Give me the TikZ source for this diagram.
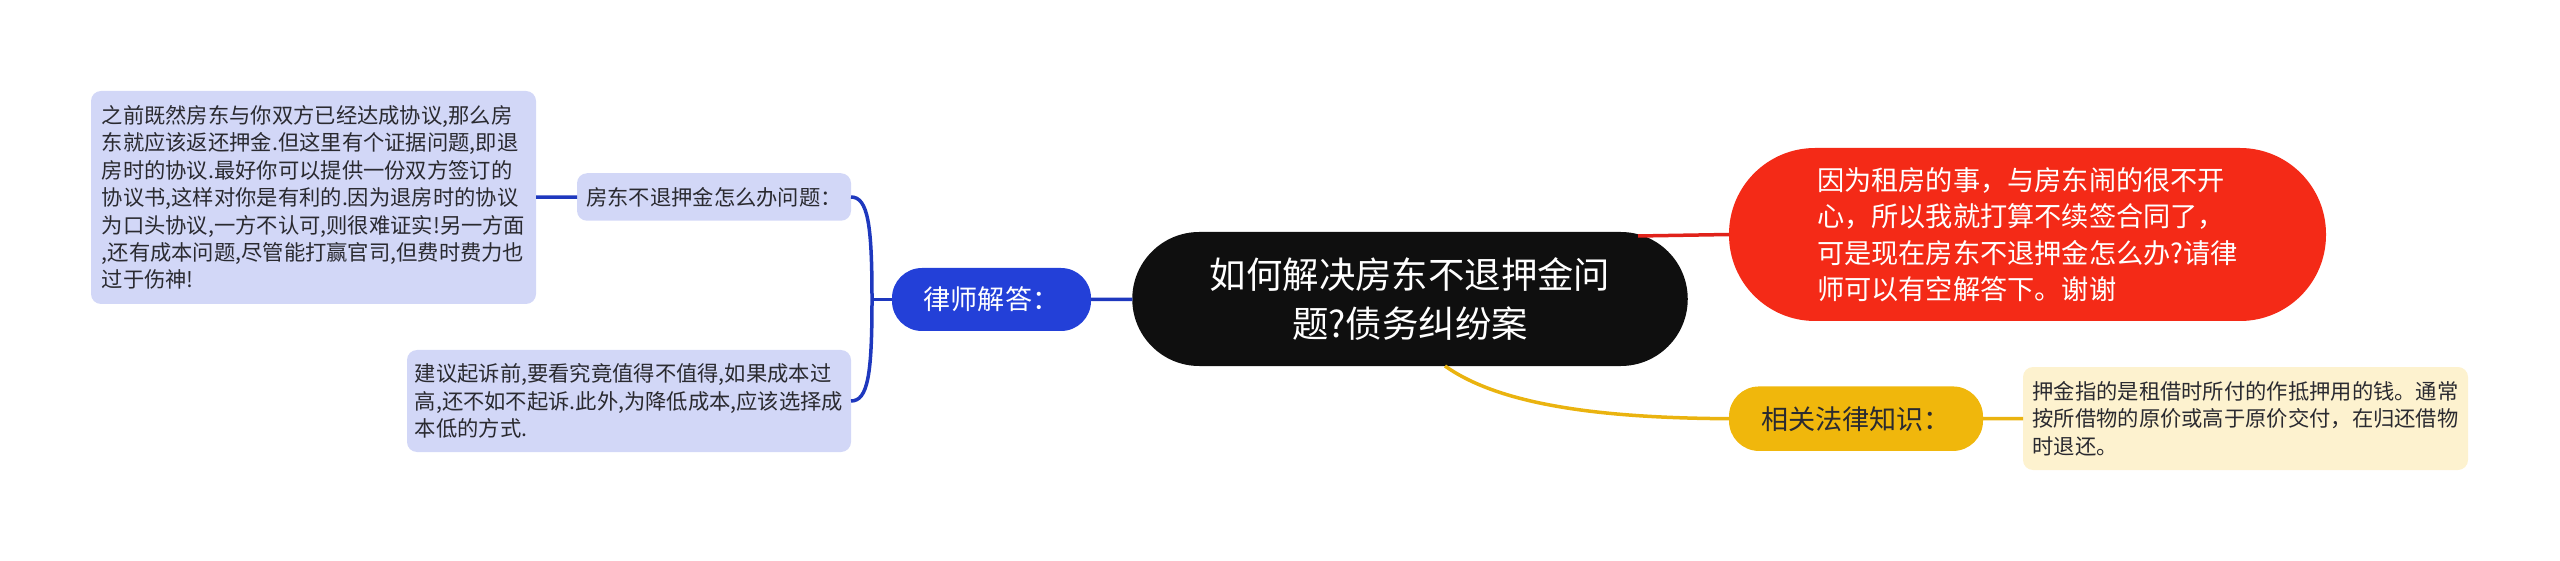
\documentclass[tikz,border=0pt]{standalone}
\usepackage{fontspec}
\setmainfont{Noto Sans CJK SC}
\definecolor{rootblack}{HTML}{0F0F0F}
\definecolor{askred}{HTML}{F42A17}
\definecolor{lineRed}{HTML}{E0221A}
\definecolor{lawblue}{HTML}{2340D8}
\definecolor{lineBlue}{HTML}{1E38BE}
\definecolor{paleBlue}{HTML}{D2D7F7}
\definecolor{lawgold}{HTML}{F0B70C}
\definecolor{lineGold}{HTML}{EAB30F}
\definecolor{paleGold}{HTML}{FDF2CF}
\definecolor{smalltext}{HTML}{2A2A30}
\tikzset{
 	mapnode/.style={inner sep=0pt,outer sep=0pt,align=left},
 	leaf/.style={mapnode,rounded corners=10pt,text=smalltext,font=\fontsize{21.3}{27.4}\selectfont},
 	topic/.style={mapnode,rounded corners=30pt,font=\fontsize{27.1}{32}\selectfont},
 	link/.style={line width=3.5pt}
}
\begin{document}
\begin{tikzpicture}[x=1pt,y=-1pt]
 	\useasboundingbox (0,0) rectangle (2560,561);
 	\node[mapnode,fill=rootblack,text=white,rounded corners=67pt,align=center,minimum width=555.5pt,minimum height=134pt,font=\fontsize{36.4}{49}\selectfont] (root) at (1410,299)
 	{如何解决房东不退押金问\\题?债务纠纷案};
 	\node[mapnode,fill=askred,text=white,rounded corners=86pt,minimum width=597pt,minimum height=173pt,font=\fontsize{27.2}{36.5}\selectfont] (ask) at (2027.5,234.5)
 	{因为租房的事，与房东闹的很不开\\心，所以我就打算不续签合同了，\\可是现在房东不退押金怎么办?请律\\师可以有空解答下。谢谢};
 	\node[topic,fill=lawblue,text=white,minimum width=199pt,minimum height=63pt] (lawyer) at (991.5,299.5) {律师解答：};
 	\node[topic,fill=lawgold,text=smalltext,minimum width=254pt,minimum height=64.5pt] (legal) at (1856,418.7) {相关法律知识：};
 	\node[leaf,fill=paleBlue,minimum width=274pt,minimum height=47.5pt] (question) at (714,197) {房东不退押金怎么办问题：};
 	\node[leaf,fill=paleBlue,minimum width=445pt,minimum height=213pt] (answerA) at (313.5,197.5)
 	{之前既然房东与你双方已经达成协议,那么房\\东就应该返还押金.但这里有个证据问题,即退\\房时的协议.最好你可以提供一份双方签订的\\协议书,这样对你是有利的.因为退房时的协议\\为口头协议,一方不认可,则很难证实!另一方面\\,还有成本问题,尽管能打赢官司,但费时费力也\\过于伤神!};
 	\node[leaf,fill=paleBlue,minimum width=444pt,minimum height=102pt] (answerB) at (629,401)
 	{建议起诉前,要看究竟值得不值得,如果成本过\\高,还不如不起诉.此外,为降低成本,应该选择成\\本低的方式.};
 	\node[leaf,fill=paleGold,minimum width=445pt,minimum height=103pt] (deposit) at (2245.5,418.5)
 	{押金指的是租借时所付的作抵押用的钱。通常\\按所借物的原价或高于原价交付，在归还借物\\时退还。};
 	\coordinate (fork) at (872,299.5);
 	\coordinate (rootTop) at (1638,236);
 	\coordinate (rootLow) at (1445,366);
 	\path[link,lineBlue]
 	(lawyer) edge (root)
 	(fork) edge (lawyer)
 	(answerA) edge (question);
 	\draw[link,lineBlue] (question.east) .. controls (868,197) and (872,225) .. (fork)
 	.. controls (872,374) and (868,401) .. (answerB.east);
 	\draw[link,lineRed] (rootTop) -- (ask.west);
 	\draw[link,lineGold] (rootLow) .. controls (1500,405) and (1600,418) .. (legal.west);
 	\path[link,lineGold] (legal) edge (deposit);
 	\end{tikzpicture}
\end{document}
